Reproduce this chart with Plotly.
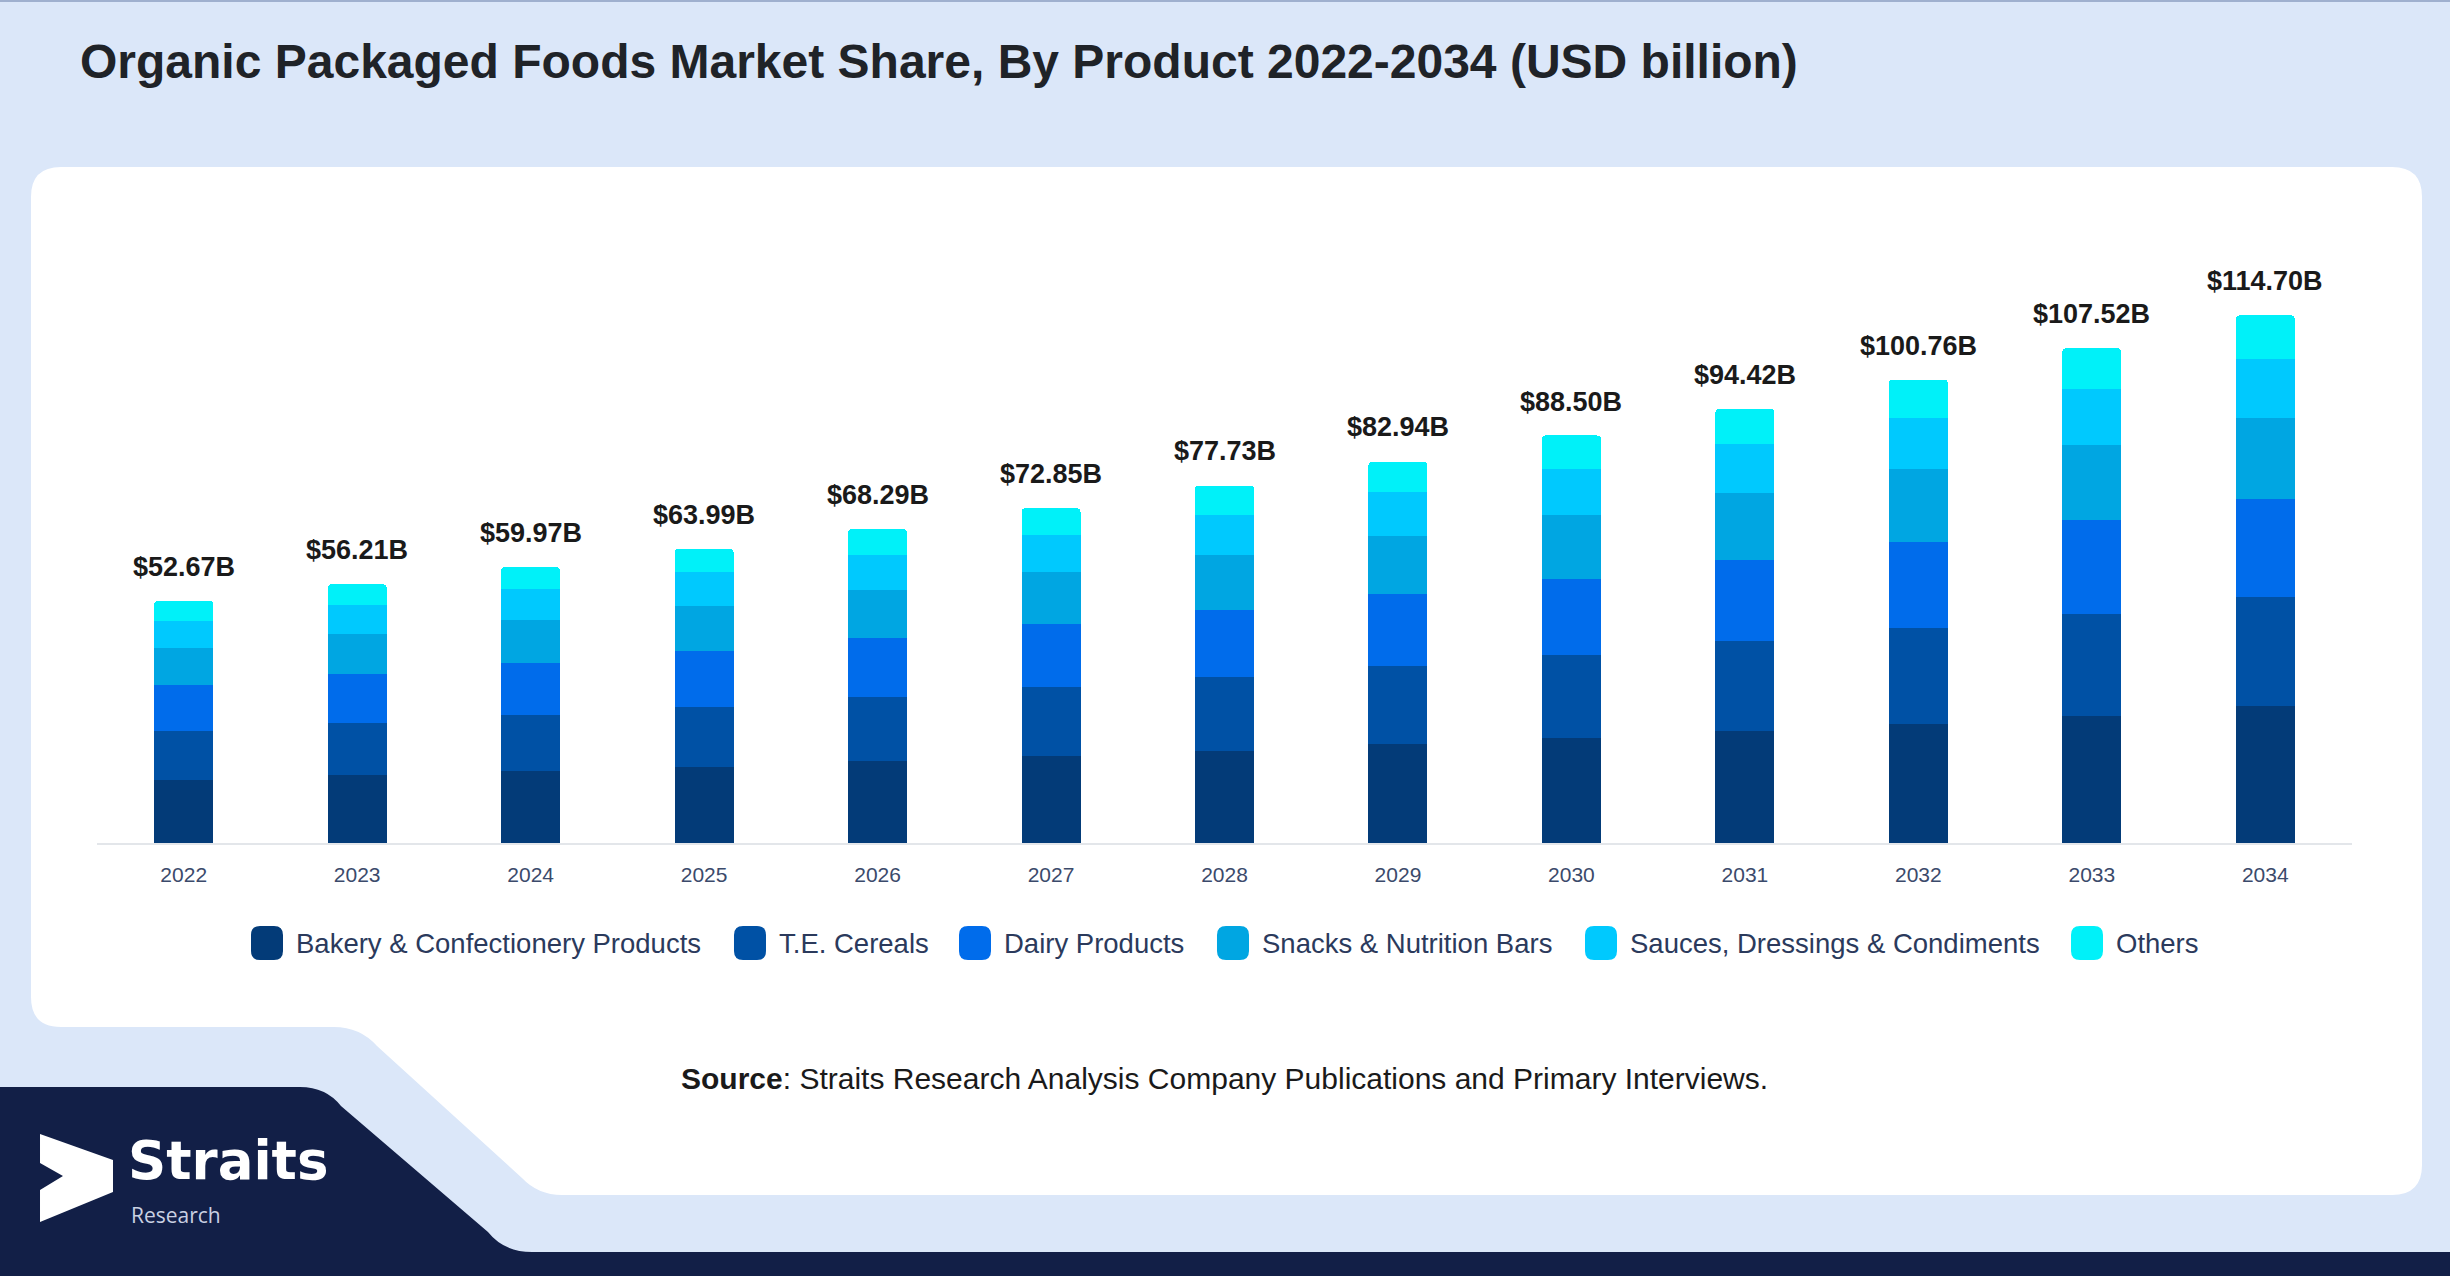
import plotly.graph_objects as go

# ---------------- data ----------------
years = ["2022", "2023", "2024", "2025", "2026", "2027", "2028",
         "2029", "2030", "2031", "2032", "2033", "2034"]
series_names = ["Bakery & Confectionery Products", "T.E. Cereals", "Dairy Products",
                "Snacks & Nutrition Bars", "Sauces, Dressings & Condiments", "Others"]
bakery = [13.75, 14.77, 15.70, 16.51, 17.73, 18.97, 20.05, 21.51, 22.82, 24.45, 25.91, 27.67, 29.80]
cereals = [10.70, 11.42, 12.23, 13.16, 14.05, 14.84, 16.08, 17.01, 18.13, 19.41, 20.87, 22.13, 23.58]
dairy = [9.92, 10.51, 11.23, 12.17, 12.88, 13.90, 14.49, 15.58, 16.50, 17.76, 18.74, 20.37, 21.35]
snacks = [8.10, 8.75, 9.34, 9.78, 10.36, 11.17, 12.02, 12.67, 13.89, 14.56, 15.72, 16.41, 17.76]
sauces = [5.86, 6.23, 6.67, 7.25, 7.60, 8.04, 8.69, 9.50, 9.89, 10.48, 11.26, 12.22, 12.80]
others = [4.34, 4.56, 4.78, 5.13, 5.65, 5.87, 6.37, 6.65, 7.37, 7.76, 8.24, 8.74, 9.41]
totals = [52.67, 56.21, 59.97, 63.99, 68.29, 72.85, 77.73, 82.94, 88.50, 94.42, 100.76, 107.52, 114.70]
total_labels = ["$52.67B", "$56.21B", "$59.97B", "$63.99B", "$68.29B", "$72.85B", "$77.73B",
                "$82.94B", "$88.50B", "$94.42B", "$100.76B", "$107.52B", "$114.70B"]
series_values = [bakery, cereals, dairy, snacks, sauces, others]
colors = ["#033b78", "#0051a5", "#006ceb", "#00a6e2", "#00c9fe", "#00f1f9"]

# ---------------- geometry helpers (pixel -> paper) ----------------
W, H = 2450, 1276


def P(x, y):
    return f"{x / W:.5f},{1 - y / H:.5f}"


def path(cmds):
    out = []
    for c in cmds:
        if c[0] == "Z":
            out.append("Z")
        elif c[0] == "Q":
            out.append("Q" + P(c[1], c[2]) + " " + P(c[3], c[4]))
        else:
            out.append(c[0] + P(c[1], c[2]))
    return " ".join(out)


FONT = "Liberation Sans, Arial, sans-serif"

fig = go.Figure()
for name, vals, col in zip(series_names, series_values, colors):
    fig.add_trace(go.Bar(
        x=years, y=vals, name=name, marker=dict(color=col, line=dict(width=0)),
        width=0.34, hovertemplate="%{x}: %{y}<extra>" + name + "</extra>",
    ))

shapes = []
# white card
card = path([
    ("M", 61, 167), ("L", 2392, 167), ("Q", 2422, 167, 2422, 197),
    ("L", 2422, 1165), ("Q", 2422, 1195, 2392, 1195),
    ("L", 562, 1195), ("Q", 538, 1195, 522, 1178),
    ("L", 377, 1046), ("Q", 360, 1027, 334, 1027),
    ("L", 61, 1027), ("Q", 31, 1027, 31, 997),
    ("L", 31, 197), ("Q", 31, 167, 61, 167), ("Z",),
])
shapes.append(dict(type="path", xref="paper", yref="paper", path=card,
                   fillcolor="white", line=dict(width=0), layer="below"))
# navy footer
navy = path([
    ("M", 0, 1087), ("L", 300, 1087), ("Q", 326, 1087, 341, 1106),
    ("L", 488, 1232), ("Q", 504, 1252, 532, 1252),
    ("L", 2450, 1252), ("L", 2450, 1276), ("L", 0, 1276), ("Z",),
])
shapes.append(dict(type="path", xref="paper", yref="paper", path=navy,
                   fillcolor="#121f47", line=dict(width=0), layer="below"))
# logo arrow
arrow = path([
    ("M", 40, 1134), ("L", 113, 1160), ("L", 113, 1192), ("L", 40, 1222),
    ("L", 40, 1190), ("L", 63, 1176), ("L", 40, 1163), ("Z",),
])
shapes.append(dict(type="path", xref="paper", yref="paper", path=arrow,
                   fillcolor="white", line=dict(width=0), layer="below"))
# top border line
shapes.append(dict(type="line", xref="paper", yref="paper", x0=0, x1=1, y0=1 - 1 / H, y1=1 - 1 / H,
                   line=dict(color="#9fb0cf", width=2)))

annotations = []
# total labels above bars (category index positions)
for i, (tot, lab) in enumerate(zip(totals, total_labels)):
    annotations.append(dict(x=i, y=tot, xref="x", yref="y", text="<b>" + lab + "</b>",
                            showarrow=False, yshift=34,
                            font=dict(family=FONT, size=27, color="#1a1a1a")))

# custom legend
leg_cx = [267, 750, 975, 1233, 1601, 2087]
leg_y = 943
for name, col, cx in zip(series_names, colors, leg_cx):
    r = 9
    x0, x1, y0, y1 = cx - 16, cx + 16, leg_y - 17, leg_y + 17
    rr = path([
        ("M", x0 + r, y0), ("L", x1 - r, y0), ("Q", x1, y0, x1, y0 + r),
        ("L", x1, y1 - r), ("Q", x1, y1, x1 - r, y1),
        ("L", x0 + r, y1), ("Q", x0, y1, x0, y1 - r),
        ("L", x0, y0 + r), ("Q", x0, y0, x0 + r, y0), ("Z",),
    ])
    shapes.append(dict(type="path", xref="paper", yref="paper", path=rr,
                       fillcolor=col, line=dict(width=0)))
    annotations.append(dict(x=(cx + 27) / W, y=1 - leg_y / H, xref="paper", yref="paper",
                            xanchor="left", yanchor="middle", showarrow=False, text=name,
                            font=dict(family=FONT, size=27.5, color="#2b3a5c")))

# title
annotations.append(dict(x=78 / W, y=1 - 62 / H, xref="paper", yref="paper", xanchor="left",
                        yanchor="middle", showarrow=False,
                        text="<b>Organic Packaged Foods Market Share, By Product 2022-2034 (USD billion)</b>",
                        font=dict(family=FONT, size=48, color="#1f2328")))
# source
annotations.append(dict(x=1224 / W, y=1 - 1078 / H, xref="paper", yref="paper", xanchor="center",
                        yanchor="middle", showarrow=False,
                        text="<b>Source</b>: Straits Research Analysis Company Publications and Primary Interviews.",
                        font=dict(family=FONT, size=30, color="#1a1a1a")))
# logo text
annotations.append(dict(x=126 / W, y=1 - 1160 / H, xref="paper", yref="paper", xanchor="left",
                        yanchor="middle", showarrow=False, text="<b>Straits</b>",
                        font=dict(family="DejaVu Sans, sans-serif", size=53, color="white")))
annotations.append(dict(x=129 / W, y=1 - 1215 / H, xref="paper", yref="paper", xanchor="left",
                        yanchor="middle", showarrow=False, text="Research",
                        font=dict(family="Open Sans, sans-serif", size=21, color="#c9d0e2")))

fig.update_layout(
    width=W, height=H,
    margin=dict(l=0, r=0, t=0, b=0),
    paper_bgcolor="#dbe7f9",
    plot_bgcolor="rgba(0,0,0,0)",
    barmode="stack",
    barcornerradius=4,
    showlegend=False,
    shapes=shapes,
    annotations=annotations,
    xaxis=dict(domain=[97 / W, 2352 / W], type="category", range=[-0.5, 12.5],
               showgrid=False, zeroline=False, showline=True, linecolor="#e3e6ea", linewidth=2,
               ticks="outside", ticklen=12, tickcolor="rgba(0,0,0,0)",
               tickfont=dict(family=FONT, size=21, color="#3b4a6b")),
    yaxis=dict(domain=[1 - 843 / H, 1 - 268 / H], range=[0, 125], visible=False,
               showgrid=False, zeroline=False),
    font=dict(family=FONT),
)

fig.write_html("out.html", config={"displayModeBar": False},
               post_script="document.body.style.margin='0';document.body.style.overflow='hidden';")
